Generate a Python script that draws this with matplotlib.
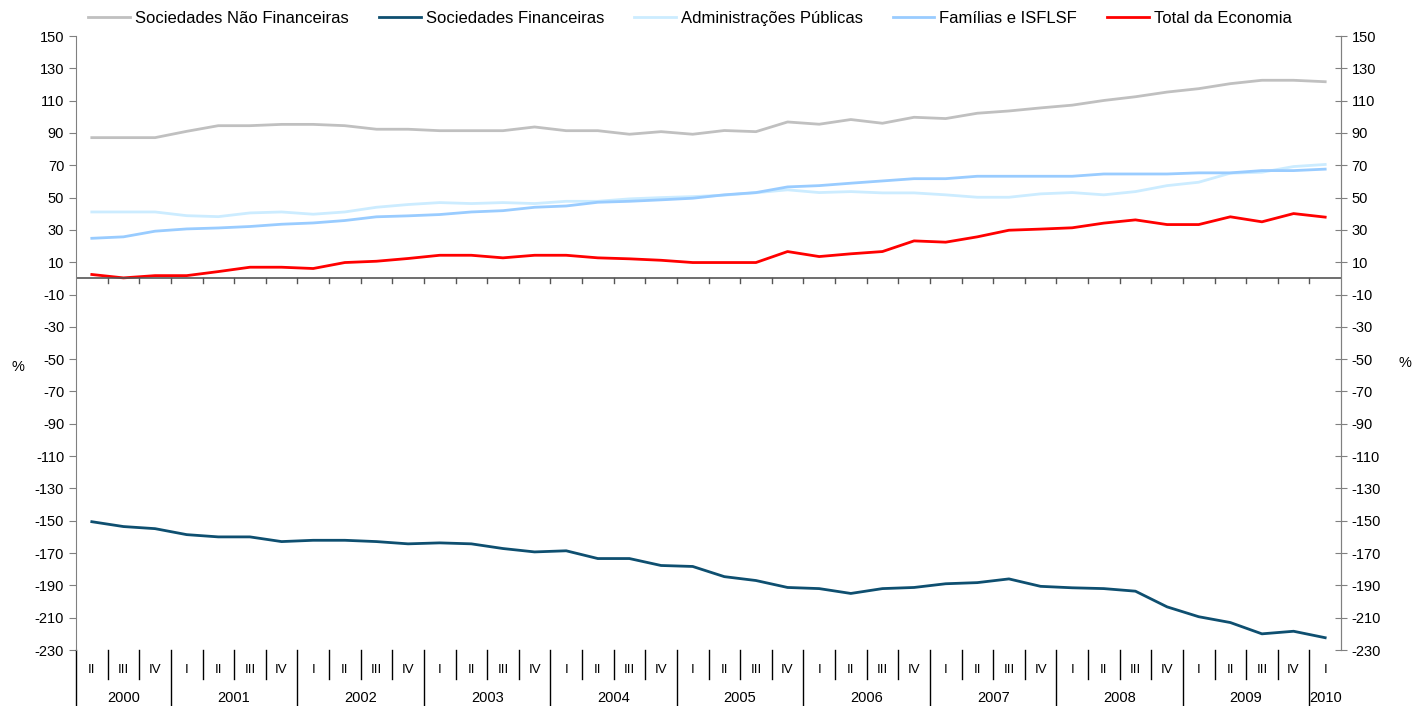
import numpy as np
import matplotlib
matplotlib.use("Agg")
import matplotlib.pyplot as plt
import matplotlib.transforms as mtransforms

plt.rcParams["font.family"] = ["Liberation Sans", "DejaVu Sans"]
plt.rcParams["font.size"] = 10.5
plt.rcParams["axes.unicode_minus"] = False

# quarters 2000 II .. 2010 I
years = ["2000", "2001", "2002", "2003", "2004", "2005", "2006", "2007", "2008", "2009", "2010"]
quarters = ["II", "III", "IV"] + ["I", "II", "III", "IV"] * 9 + ["I"]

snf = [87.1, 87.1, 87.1, 91, 94.5, 94.5, 95.3, 95.3, 94.5, 92.3,
       92.3, 91.4, 91.4, 91.4, 93.7, 91.4, 91.4, 89.2, 90.8, 89.2,
       91.5, 90.8, 96.8, 95.4, 98.3, 96, 99.7, 98.9, 102.2, 103.6,
       105.5, 107.2, 110.1, 112.4, 115.3, 117.4, 120.5, 122.6, 122.6, 121.7]
sf = [-150.6, -153.6, -154.9, -158.6, -160, -160, -162.9, -162.1, -162.1, -162.9,
      -164.3, -163.7, -164.3, -167.2, -169.3, -168.6, -173.4, -173.4, -177.7, -178.3,
      -184.6, -187, -191.3, -192, -195, -192, -191.3, -189, -188.3, -186,
      -190.6, -191.5, -192, -193.6, -203.3, -209.4, -213, -220, -218.4, -222.4]
ap = [41.1, 41.1, 41.1, 38.8, 38.2, 40.5, 41.1, 39.7, 41.1, 44,
      45.7, 46.9, 46.3, 46.9, 46.3, 47.7, 47.7, 49.2, 50, 50.6,
      51.5, 53, 54.8, 53.1, 53.7, 52.9, 52.9, 51.7, 50.2, 50.2,
      52.3, 53.1, 51.7, 53.7, 57.4, 59.5, 65.1, 65.7, 69.2, 70.5]
fam = [24.8, 25.7, 29.2, 30.6, 31.2, 32.1, 33.5, 34.3, 35.8, 38.1,
       38.7, 39.5, 41.1, 41.9, 44, 44.8, 47.1, 47.7, 48.6, 49.6,
       51.7, 53.1, 56.6, 57.4, 58.9, 60.3, 61.7, 61.7, 63.2, 63.2,
       63.2, 63.2, 64.6, 64.6, 64.6, 65.3, 65.3, 66.7, 66.7, 67.6]
total = [2.4, 0.3, 1.7, 1.7, 4.2, 6.9, 6.9, 6.1, 9.8, 10.6,
         12.3, 14.3, 14.3, 12.7, 14.3, 14.3, 12.7, 12.1, 11.2, 9.8,
         9.8, 9.8, 16.6, 13.5, 15.2, 16.6, 23.2, 22.4, 25.7, 29.8,
         30.5, 31.3, 34.2, 36.2, 33.3, 33.3, 38.1, 35, 40.1, 37.9]

series = [
    ("Sociedades Não Financeiras", snf, "#C0C0C0"),
    ("Sociedades Financeiras", sf, "#0E4F70"),
    ("Administrações Públicas", ap, "#CCECFF"),
    ("Famílias e ISFLSF", fam, "#99CCFF"),
    ("Total da Economia", total, "#FF0000"),
]

fig = plt.figure(figsize=(14.14, 7.06), dpi=100)
ax = fig.add_axes([76 / 1414, 56 / 706, 1265 / 1414, 614 / 706])

x = np.arange(len(quarters))
for name, vals, col in series:
    ax.plot(x, vals, color=col, lw=2.0, label=name, solid_joinstyle="round")

ax.set_xlim(-0.5, len(quarters) - 0.5)
ax.set_ylim(-230, 150)
yt = np.arange(150, -231, -20)
ax.set_yticks(yt)
ax.set_xticks([])
for s in ["top", "bottom"]:
    ax.spines[s].set_visible(False)
for s in ["left", "right"]:
    ax.spines[s].set_color("#808080")
ax.tick_params(axis="y", length=5, color="#808080", direction="out")

ax2 = ax.twinx()
ax2.set_ylim(ax.get_ylim())
ax2.set_yticks(yt)
for s in ["top", "bottom", "left"]:
    ax2.spines[s].set_visible(False)
ax2.spines["right"].set_color("#808080")
ax2.tick_params(axis="y", length=8, color="#808080", direction="inout")

# zero line with category ticks
ax.axhline(0, color="#555555", lw=1.2)
for b in np.arange(0.5, len(quarters) - 1, 1.0):
    ax.plot([b, b], [0, -3], color="#555555", lw=1.0)

# category axis below the plot
tr = mtransforms.blended_transform_factory(ax.transData, ax.transAxes)
for i, q in enumerate(quarters):
    ax.text(i, -0.033, q, transform=tr, ha="center", va="center", fontsize=9.5,
            family=["Liberation Sans Narrow", "Liberation Sans"])
starts = [0]
for i in range(1, len(quarters)):
    if quarters[i] == "I":
        starts.append(i)
for i in range(len(quarters)):
    b = i - 0.5
    if i in starts:
        ax.plot([b, b], [0, -0.1], transform=tr, color="black", lw=1.0, clip_on=False)
    else:
        ax.plot([b, b], [0, -0.047], transform=tr, color="black", lw=1.0, clip_on=False)
bounds = starts + [len(quarters)]
for k, yr in enumerate(years):
    mid = (bounds[k] + bounds[k + 1] - 1) / 2
    ax.text(mid, -0.078, yr, transform=tr, ha="center", va="center", fontsize=10.5)

fig.text(18 / 1414, 1 - 367 / 706, "%", ha="center", va="center", fontsize=10.5)
fig.text(1405 / 1414, 1 - 363 / 706, "%", ha="center", va="center", fontsize=10.5)

fig.legend(loc="upper center", bbox_to_anchor=(0.488, 1.006), ncol=5, frameon=False,
           handlelength=2.5, handletextpad=0.3, columnspacing=1.8, fontsize=12)

fig.savefig("out.png", dpi=100)
